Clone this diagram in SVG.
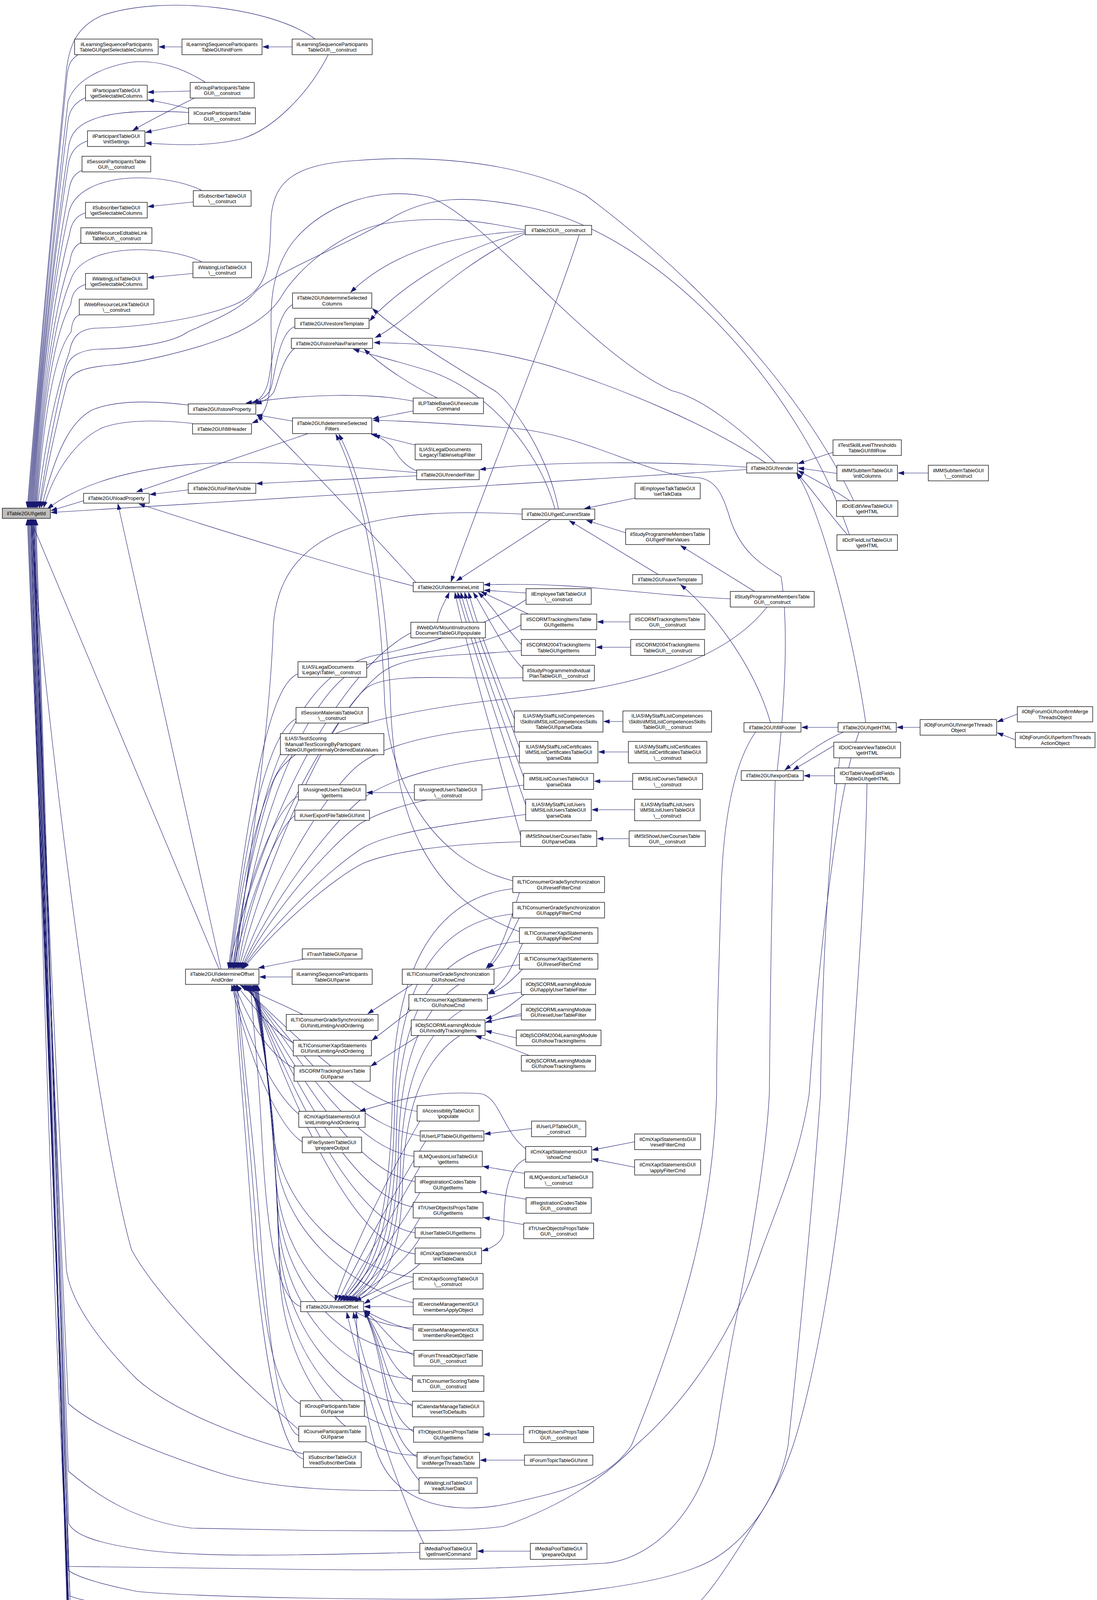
<svg xmlns="http://www.w3.org/2000/svg" width="2809" height="4775" viewBox="0 0 2809 4775">
<defs>
<marker id="ah" markerWidth="16" markerHeight="11" refX="15" refY="5.5" orient="auto" markerUnits="userSpaceOnUse"><path d="M0,0.5 L15,5.5 L0,10.5 z" fill="#191970" stroke="#191970"/></marker>
<style>
rect{fill:#fff;stroke:#000;stroke-width:1.3}
.g rect{fill:#bfbfbf}
text{font-family:"Liberation Sans",Arial,sans-serif;font-size:13px;fill:#000;text-anchor:middle}
text.l{text-anchor:start}
#edges path{fill:none;stroke:#191970;stroke-width:1.1;marker-end:url(#ah)}
</style>
</defs>
<rect x="0" y="0" width="2809" height="4775" style="fill:#fff;stroke:none"/>
<g id="edges">
<path d="M748,120 L673,120"/>
<path d="M466,120 L407,120"/>
<path d="M840,141 C790,240 700,330 620,355 C540,375 450,372 373,366"/>
<path d="M487,233 L379,236"/>
<path d="M498,251 C450,275 380,310 340,334"/>
<path d="M483,278 C450,270 420,262 379,256"/>
<path d="M483,316 L373,339"/>
<path d="M495,517 L379,529"/>
<path d="M494,700 L379,711"/>
<path d="M807,100 C700,20 420,-15 260,40 C200,68 178,110 170,180 Q110,800 70,1299"/>
<path d="M200,140 C185,150 176,160 172,190 Q112,800 72,1299"/>
<path d="M526,211 C470,175 400,150 330,160 C250,175 190,210 174,260 Q113,800 74,1299"/>
<path d="M219,250 C192,262 178,280 174,310 Q114,800 76,1299"/>
<path d="M483,288 C400,283 300,282 240,305 C200,320 180,340 175,380 Q115,800 78,1299"/>
<path d="M224,361 C195,370 180,390 175,420 Q116,800 80,1299"/>
<path d="M210,436 C190,445 180,460 176,490 Q117,800 82,1299"/>
<path d="M516,487 C470,465 400,452 330,456 C250,462 192,490 177,540 Q118,800 84,1299"/>
<path d="M219,545 C195,552 182,570 178,600 Q119,820 86,1299"/>
<path d="M207,621 C190,630 182,645 179,670 Q120,840 88,1299"/>
<path d="M516,670 C470,648 400,636 330,640 C250,645 193,672 180,720 Q121,860 90,1299"/>
<path d="M219,728 C195,736 184,750 181,780 Q122,880 92,1299"/>
<path d="M203,806 C190,812 184,825 182,850 Q123,920 94,1299"/>
<path d="M2186,1282 C2100,1100 1900,800 1500,500 C1300,400 1050,400 912,411 C760,420 700,460 694,560 C690,680 690,740 600,780 C500,820 350,838 246,840 C205,842 185,860 178,900 Q125,1050 96,1299"/>
<path d="M2175,1369 C2050,1000 1700,600 1350,530 C1200,500 1100,500 1000,560 C900,620 700,700 656,745 C620,790 560,815 480,850 C440,880 330,893 246,894 C205,898 180,910 170,940 Q130,1100 100,1299"/>
<path d="M1345,589 C1250,570 1150,550 1000,570 C880,585 760,690 720,760 C690,810 620,850 560,870 C480,900 350,930 281,935 C220,940 185,950 172,980 Q135,1120 102,1299"/>
<path d="M1067,1210 C900,1195 700,1180 560,1185 C400,1190 230,1220 122,1302"/>
<path d="M1912,1202 L131,1312"/>
<path d="M482,1037 C400,1027 300,1022 235,1050 C180,1080 145,1150 106,1299"/>
<path d="M494,1084 C420,1076 320,1072 260,1096 C200,1125 140,1200 112,1299"/>
<path d="M214,1282 L131,1307"/>
<path d="M561,2481 L78,1330"/>
<path d="M566,2481 L302,1290"/>
<path d="M482,1254 L384,1266"/>
<path d="M1067,1218 L657,1238"/>
<path d="M789,1110 L350,1259"/>
<path d="M749,1078 L657,1062"/>
<path d="M1058,1027 C950,1005 780,1008 630,1032"/>
<path d="M1058,1052 L955,1072"/>
<path d="M1066,1140 L950,1111"/>
<path d="M1067,1206 C1030,1190 1015,1160 1005,1145 C990,1130 975,1120 958,1113"/>
<path d="M1313,2255 C1100,2200 1000,2000 985,1800 C975,1500 930,1250 860,1112"/>
<path d="M1330,2385 C1100,2300 1010,2100 1000,1800 C990,1500 940,1250 868,1112"/>
<path d="M1065,1491 C1000,1420 800,1200 659,1063"/>
<path d="M1058,1500 C900,1460 600,1370 356,1290"/>
<path d="M749,780 C710,800 700,900 690,960 C685,1000 670,1020 648,1032"/>
<path d="M755,836 C715,850 705,950 695,990 C690,1010 670,1025 645,1031"/>
<path d="M754,892 C720,920 710,990 700,1005 C690,1020 675,1028 655,1034"/>
<path d="M1985,1185 C1900,1100 1800,1020 1720,1000 C1500,900 1250,560 1100,505 C950,470 800,540 737,638 C700,700 694,760 694,820 C694,900 700,950 690,1000 C685,1050 665,1075 646,1083"/>
<path d="M1961,1185 C1800,1080 1600,1000 1450,950 C1300,900 1150,880 958,877"/>
<path d="M1120,1019 C1060,990 980,940 933,894"/>
<path d="M1345,592 C1150,600 1000,650 898,748"/>
<path d="M1345,595 C1150,640 1000,760 947,821"/>
<path d="M1345,598 C1150,690 1050,820 961,864"/>
<path d="M1483,601 C1420,800 1220,1300 1155,1489"/>
<path d="M1430,1303 C1400,1150 1300,1020 1266,1000 C1150,930 1020,850 954,790"/>
<path d="M1421,1303 C1380,1150 1250,1000 1100,950 C1000,920 940,905 905,894"/>
<path d="M1990,1973 C2010,1800 2020,1600 2000,1476 C1960,1450 1900,1420 1870,1330 C1850,1260 1830,1224 1780,1222 C1650,1215 1500,1110 1300,1095 C1150,1085 1050,1078 956,1076"/>
<path d="M1410,1330 L1169,1487"/>
<path d="M1337,1316 C1000,1300 720,1330 700,1600 C690,1900 630,2250 600,2479"/>
<path d="M1626,1275 L1497,1302"/>
<path d="M1602,1364 L1502,1332"/>
<path d="M1686,1471 L1458,1333"/>
<path d="M1932,1514 L1743,1397"/>
<path d="M1870,1533 C1600,1520 1500,1490 1240,1497"/>
<path d="M1964,1554 C1850,1700 1600,1760 1380,1782 C1150,1800 760,1850 700,2000 C650,2150 610,2350 598,2479"/>
<path d="M1973,1850 C1930,1700 1820,1560 1743,1497"/>
<path d="M2146,1862 L2053,1862"/>
<path d="M2356,1862 L2297,1862"/>
<path d="M2605,1828 L2554,1848"/>
<path d="M2600,1894 L2554,1876"/>
<path d="M2377,1211 L2300,1211"/>
<path d="M2133,1158 L2044,1187"/>
<path d="M2143,1212 L2044,1198"/>
<path d="M2176,1282 C2130,1250 2080,1225 2044,1205"/>
<path d="M2170,1369 C2110,1300 2070,1240 2040,1211"/>
<path d="M2217,1850 C2180,1600 2100,1300 2040,1212"/>
<path d="M2150,1900 C2100,1930 2050,1960 2031,1971"/>
<path d="M2137,1986 L2059,1986"/>
<path d="M2160,1874 C2100,1900 2050,1940 2010,1971"/>
<path d="M1912,1196 C1700,1180 1400,1180 1229,1202"/>
<path d="M1347,1518 L1240,1511"/>
<path d="M1347,1535 C1250,1600 1100,1650 950,1680 C800,1720 660,1900 603,2479"/>
<path d="M1353,1572 L1232,1515"/>
<path d="M1334,1600 C1200,1680 1000,1660 900,1720 C780,1800 650,2100 606,2479"/>
<path d="M1335,1650 C1290,1600 1260,1550 1225,1517"/>
<path d="M1335,1665 C1200,1680 1050,1670 980,1720 C880,1790 660,2150 609,2479"/>
<path d="M1339,1712 C1280,1650 1240,1560 1212,1517"/>
<path d="M1339,1735 C1150,1740 1000,1720 940,1760 C850,1830 680,2200 612,2479"/>
<path d="M1317,1840 C1280,1750 1220,1600 1200,1517"/>
<path d="M1317,1860 C1150,1870 1000,1900 930,1950 C850,2000 700,2250 615,2479"/>
<path d="M1330,1915 C1290,1800 1210,1600 1190,1517"/>
<path d="M1330,1935 C1150,1950 1000,1990 920,2050 C840,2120 700,2300 618,2479"/>
<path d="M1341,1990 C1290,1850 1200,1600 1180,1517"/>
<path d="M1341,2010 C1150,2030 1000,2060 920,2110 C840,2170 700,2330 620,2479"/>
<path d="M1346,2060 C1290,1900 1200,1620 1172,1517"/>
<path d="M1346,2085 C1150,2110 1000,2130 930,2170 C850,2220 700,2360 622,2479"/>
<path d="M1333,2140 C1280,1950 1190,1640 1165,1517"/>
<path d="M1333,2155 C1150,2160 1000,2180 930,2210 C850,2250 700,2380 624,2479"/>
<path d="M1052,1620 C900,1700 700,2000 585,2479"/>
<path d="M1120,1593 C1125,1560 1140,1540 1150,1517"/>
<path d="M1613,1592 L1530,1592"/>
<path d="M1615,1657 L1527,1657"/>
<path d="M1595,1847 L1546,1847"/>
<path d="M1609,1925 L1533,1925"/>
<path d="M1620,2000 L1522,2000"/>
<path d="M1625,2073 L1516,2073"/>
<path d="M1611,2147 L1530,2147"/>
<path d="M1061,2029 L939,2029"/>
<path d="M763,1725 C700,1750 650,1950 585,2479"/>
<path d="M758,1840 C700,1870 640,2050 588,2479"/>
<path d="M740,1932 C690,1990 630,2150 591,2479"/>
<path d="M764,2038 C720,2060 640,2200 594,2479"/>
<path d="M755,2088 C720,2110 650,2250 597,2479"/>
<path d="M779,2455 L662,2478"/>
<path d="M748,2501 L665,2501"/>
<path d="M775,2597 C720,2570 660,2545 615,2522"/>
<path d="M751,2670 C700,2640 650,2580 606,2522"/>
<path d="M753,2735 C690,2700 640,2620 601,2522"/>
<path d="M765,2852 C700,2800 630,2650 597,2522"/>
<path d="M774,2923 C720,2890 650,2750 593,2522"/>
<path d="M1056,2520 L942,2595"/>
<path d="M1052,2586 L953,2663"/>
<path d="M1073,2651 L950,2729"/>
<path d="M1330,2285 C1300,2380 1280,2440 1245,2479"/>
<path d="M1330,2349 C1300,2410 1280,2450 1250,2479"/>
<path d="M1338,2415 C1310,2480 1290,2520 1250,2543"/>
<path d="M1338,2481 C1310,2510 1290,2530 1252,2545"/>
<path d="M1342,2546 C1300,2580 1270,2600 1244,2608"/>
<path d="M1335,2595 L1244,2617"/>
<path d="M1322,2657 L1244,2639"/>
<path d="M1355,2702 C1300,2680 1260,2665 1218,2652"/>
<path d="M1346,2941 C1290,2900 1280,2810 1232,2800 C1100,2790 1000,2820 921,2845"/>
<path d="M1346,2967 C1290,2990 1290,3100 1290,3150 C1290,3180 1260,3195 1235,3202"/>
<path d="M1625,2923 L1517,2944"/>
<path d="M1625,2988 L1517,2967"/>
<path d="M1361,2889 L1241,2903"/>
<path d="M1343,3004 L1237,2986"/>
<path d="M1347,3070 L1232,3050"/>
<path d="M1341,3135 L1239,3117"/>
<path d="M1341,3672 L1239,3672"/>
<path d="M1343,3738 L1230,3738"/>
<path d="M1358,3971 L1223,3971"/>
<path d="M1068,2845 C950,2830 800,2700 620,2522"/>
<path d="M1076,2908 C900,2880 780,2700 625,2522"/>
<path d="M1060,2960 C900,2940 760,2700 628,2522"/>
<path d="M1063,3025 C900,3000 750,2720 631,2522"/>
<path d="M1058,3090 C890,3060 740,2730 634,2522"/>
<path d="M1063,3156 C890,3130 730,2740 637,2522"/>
<path d="M1063,3210 C890,3190 720,2750 640,2522"/>
<path d="M1075,2870 C1000,3000 900,3200 858,3330"/>
<path d="M1090,2921 C1010,3050 920,3220 866,3330"/>
<path d="M1075,2987 C1010,3100 930,3240 874,3330"/>
<path d="M1075,3053 C1020,3150 940,3260 882,3330"/>
<path d="M1075,3118 C1030,3200 950,3280 890,3330"/>
<path d="M1075,3169 C1040,3230 960,3290 898,3330"/>
<path d="M1075,3235 C1040,3270 970,3300 910,3331"/>
<path d="M1058,3280 C1000,3300 960,3320 933,3337"/>
<path d="M1058,3345 L933,3345"/>
<path d="M1058,3405 C1000,3390 960,3370 933,3354"/>
<path d="M1060,3470 C1000,3440 980,3390 933,3357"/>
<path d="M1056,3535 C990,3500 980,3420 933,3358"/>
<path d="M1056,3600 C985,3560 985,3440 933,3358"/>
<path d="M1059,3665 C980,3620 990,3460 933,3358"/>
<path d="M1068,3730 C980,3680 990,3470 933,3358"/>
<path d="M1073,3790 C1000,3700 930,3500 905,3360"/>
<path d="M1085,3951 C1010,3800 920,3500 888,3360"/>
<path d="M770,3345 C700,3320 680,3100 670,2900 C660,2700 645,2600 642,2522"/>
<path d="M1058,3270 C900,3250 720,3100 700,2900 C690,2750 660,2600 645,2522"/>
<path d="M1058,3335 C900,3300 720,3150 705,2950 C695,2780 665,2620 648,2522"/>
<path d="M1058,3400 C880,3390 720,3250 705,3000 C695,2800 668,2620 650,2522"/>
<path d="M1060,3465 C880,3450 720,3300 708,3050 C700,2850 670,2630 652,2522"/>
<path d="M1056,3530 C880,3520 720,3350 710,3100 C702,2880 672,2640 654,2522"/>
<path d="M1056,3595 C880,3590 720,3400 712,3150 C705,2900 674,2650 656,2522"/>
<path d="M1059,3660 C880,3660 720,3450 714,3200 C708,2920 676,2660 658,2522"/>
<path d="M1068,3725 C880,3730 720,3500 716,3250 C710,2950 678,2670 660,2522"/>
<path d="M1313,2275 C1100,2300 1010,2500 1005,2800 C1000,3100 960,3250 870,3330"/>
<path d="M1313,2340 C1100,2360 1015,2550 1010,2850 C1005,3120 965,3260 878,3330"/>
<path d="M1330,2410 C1100,2430 1020,2600 1015,2900 C1010,3140 970,3270 886,3330"/>
<path d="M1330,2470 C1110,2490 1025,2650 1020,2950 C1015,3160 975,3280 894,3330"/>
<path d="M1335,2540 C1120,2560 1030,2700 1025,3000 C1020,3180 980,3290 902,3330"/>
<path d="M1335,2600 C1130,2620 1035,2750 1030,3050 C1025,3200 985,3300 910,3330"/>
<path d="M765,3660 C650,3560 420,3350 337,3200 C250,2900 110,1800 80,1330"/>
<path d="M777,3722 C650,3690 450,3620 350,3530 C250,3430 180,3330 170,3250 Q120,2300 82,1330"/>
<path d="M777,3735 C720,3720 680,3500 650,3200 C630,2900 610,2700 600,2522"/>
<path d="M769,3594 C700,3560 680,3400 660,3200 C640,2900 615,2700 605,2522"/>
<path d="M765,3675 C720,3660 690,3450 670,3200 C650,2900 620,2700 608,2522"/>
<path d="M1073,3815 C900,3818 700,3815 560,3770 C420,3725 250,3660 175,3593 Q125,2500 84,1330"/>
<path d="M1075,3974 C800,3980 500,3990 350,3965 C250,3950 190,3930 176,3900 Q128,2600 86,1330"/>
<path d="M1935,1874 C1880,1950 1850,2100 1846,2300 C1840,2500 1835,2650 1835,2800 C1825,3100 1760,3350 1617,3700 C1550,3800 1420,3822 1300,3850 C1150,3880 1000,3850 960,3700 C930,3600 915,3450 912,3360"/>
<path d="M1985,1998 C1975,2300 1972,2600 1970,2800 C1960,3000 1900,3300 1881,3397 C1860,3500 1840,3640 1829,3700 C1780,3900 1650,3995 1546,4002 C1300,4015 1100,4021 800,4018 C500,4015 300,4012 170,4010 Q130,2700 88,1330"/>
<path d="M2200,1874 C2150,2000 2100,2400 2072,2800 C2050,2950 2000,3064 1950,3200 C1900,3350 1800,3550 1628,3700 C1550,3780 1450,3850 1291,3907 C1200,3920 1100,3920 800,3918 L491,3912 C350,3895 250,3830 175,3766 Q128,2600 86,1330"/>
<path d="M2150,1940 C2120,2200 2105,2500 2101,2800 C2080,3100 2040,3500 2018,3700 C1990,3850 1900,3950 1821,3995 C1700,4060 1400,4094 1100,4094 C800,4094 450,4085 351,4074 C280,4060 200,4040 175,4020 Q132,2700 90,1330"/>
<path d="M2220,2006 C2215,2300 2190,2600 2177,2800 C2150,3200 2080,3550 2031,3700 C2000,3790 1980,3826 1900,3950 C1830,4060 1780,4131 1738,4131 L1100,4131 C800,4131 600,4126 491,4124 C350,4118 230,4105 179,4086 Q134,2700 92,1330"/>
<path d="M475,4255 C350,4240 220,4225 180,4200 Q120,3000 80,1330"/>
<path d="M475,4275 L393,4288"/>
<path d="M477,4487 L392,4487"/>
<path d="M478,4666 L389,4672"/>
<path d="M479,4705 L389,4696"/>
<path d="M200,4154 C190,4140 182,4130 180,4110 Q130,2800 70,1330"/>
<path d="M203,4280 C188,4270 182,4255 181,4230 Q131,2800 72,1330"/>
<path d="M213,4345 C192,4335 183,4320 182,4290 Q132,2800 74,1330"/>
<path d="M205,4410 C190,4400 184,4385 183,4350 Q133,2800 76,1330"/>
<path d="M206,4475 C190,4465 185,4450 184,4410 Q134,2800 78,1330"/>
<path d="M206,4540 C190,4530 186,4515 185,4470 Q135,2800 80,1330"/>
<path d="M215,4606 C192,4596 187,4580 186,4530 Q136,2800 82,1330"/>
<path d="M208,4671 C192,4661 188,4645 187,4590 Q137,2800 84,1330"/>
<path d="M199,4737 C190,4727 189,4710 188,4650 Q138,2800 86,1330"/>
</g>
<g id="n_getId" class="g"><rect x="6" y="1301" width="123" height="26"/><text x="67.5" y="1318.5">ilTable2GUI\getId</text></g>
<g id="n_A1"><rect x="191" y="100" width="214" height="40"/><text x="298" y="117.5">ilLearningSequenceParticipants</text><text x="298" y="132">TableGUI\getSelectableColumns</text></g>
<g id="n_B1"><rect x="466" y="100" width="205" height="40"/><text x="568.5" y="117.5">ilLearningSequenceParticipants</text><text x="568.5" y="132">TableGUI\initForm</text></g>
<g id="n_C1"><rect x="748" y="100" width="205" height="40"/><text x="850.5" y="117.5">ilLearningSequenceParticipants</text><text x="850.5" y="132">TableGUI\__construct</text></g>
<g id="n_A2"><rect x="219" y="218" width="158" height="40"/><text x="298" y="235.5">ilParticipantTableGUI</text><text x="298" y="250">\getSelectableColumns</text></g>
<g id="n_B2"><rect x="487" y="211" width="164" height="40"/><text x="569" y="228.5">ilGroupParticipantsTable</text><text x="569" y="243">GUI\__construct</text></g>
<g id="n_B3"><rect x="483" y="276" width="171" height="41"/><text x="568.5" y="294">ilCourseParticipantsTable</text><text x="568.5" y="308.5">GUI\__construct</text></g>
<g id="n_A3"><rect x="224" y="335" width="147" height="40"/><text x="297.5" y="352.5">ilParticipantTableGUI</text><text x="297.5" y="367">\initSettings</text></g>
<g id="n_A4"><rect x="210" y="400" width="176" height="40"/><text x="298" y="417.5">ilSessionParticipantsTable</text><text x="298" y="432">GUI\__construct</text></g>
<g id="n_B4"><rect x="495" y="488" width="148" height="40"/><text x="569" y="505.5">ilSubscriberTableGUI</text><text x="569" y="520">\__construct</text></g>
<g id="n_A5"><rect x="219" y="518" width="158" height="40"/><text x="298" y="535.5">ilSubscriberTableGUI</text><text x="298" y="550">\getSelectableColumns</text></g>
<g id="n_A6"><rect x="207" y="583" width="182" height="40"/><text x="298" y="600.5">ilWebResourceEditableLink</text><text x="298" y="615">TableGUI\__construct</text></g>
<g id="n_B5"><rect x="494" y="671" width="150" height="40"/><text x="569" y="688.5">ilWaitingListTableGUI</text><text x="569" y="703">\__construct</text></g>
<g id="n_A7"><rect x="219" y="700" width="158" height="40"/><text x="298" y="717.5">ilWaitingListTableGUI</text><text x="298" y="732">\getSelectableColumns</text></g>
<g id="n_A8"><rect x="203" y="766" width="191" height="40"/><text x="298.5" y="783.5">ilWebResourceLinkTableGUI</text><text x="298.5" y="798">\__construct</text></g>
<g id="n_C2"><rect x="749" y="750" width="203" height="39"/><text x="850.5" y="767">ilTable2GUI\determineSelected</text><text x="850.5" y="781.5">Columns</text></g>
<g id="n_C3"><rect x="755" y="815" width="190" height="26"/><text x="850" y="832.5">ilTable2GUI\restoreTemplate</text></g>
<g id="n_C4"><rect x="746" y="866" width="208" height="26"/><text x="850" y="883.5">ilTable2GUI\storeNavParameter</text></g>
<g id="n_B6"><rect x="482" y="1034" width="173" height="26"/><text x="568.5" y="1051.5">ilTable2GUI\storeProperty</text></g>
<g id="n_C5"><rect x="749" y="1070" width="203" height="40"/><text x="850.5" y="1087.5">ilTable2GUI\determineSelected</text><text x="850.5" y="1102">Filters</text></g>
<g id="n_B7"><rect x="493" y="1085" width="151" height="26"/><text x="568.5" y="1102.5">ilTable2GUI\fillHeader</text></g>
<g id="n_D1"><rect x="1058" y="1019" width="180" height="40"/><text x="1148" y="1036.5">ilLPTableBaseGUI\execute</text><text x="1148" y="1051">Command</text></g>
<g id="n_D2"><rect x="1063" y="1137" width="170" height="40"/><text class="l" x="1073" y="1154.5">ILIAS\LegalDocuments</text><text class="l" x="1073" y="1169">\Legacy\Table\setupFilter</text></g>
<g id="n_D3"><rect x="1067" y="1203" width="160" height="25"/><text x="1147" y="1220">ilTable2GUI\renderFilter</text></g>
<g id="n_B8"><rect x="482" y="1237" width="173" height="26"/><text x="568.5" y="1254.5">ilTable2GUI\isFilterVisible</text></g>
<g id="n_A9"><rect x="214" y="1263" width="168" height="25"/><text x="298" y="1280">ilTable2GUI\loadProperty</text></g>
<g id="n_E0"><rect x="1345" y="577" width="170" height="24"/><text x="1430" y="593.5">ilTable2GUI\__construct</text></g>
<g id="n_E1"><rect x="1337" y="1303" width="186" height="27"/><text x="1430" y="1321">ilTable2GUI\getCurrentState</text></g>
<g id="n_F1"><rect x="1626" y="1237" width="167" height="40"/><text x="1709.5" y="1254.5">ilEmployeeTalkTableGUI</text><text x="1709.5" y="1269">\setTalkData</text></g>
<g id="n_F2"><rect x="1602" y="1354" width="215" height="40"/><text x="1709.5" y="1371.5">ilStudyProgrammeMembersTable</text><text x="1709.5" y="1386">GUI\getFilterValues</text></g>
<g id="n_F3"><rect x="1620" y="1471" width="178" height="24"/><text x="1709" y="1487.5">ilTable2GUI\saveTemplate</text></g>
<g id="n_D4"><rect x="1058" y="1491" width="180" height="24"/><text x="1148" y="1507.5">ilTable2GUI\determineLimit</text></g>
<g id="n_E2"><rect x="1347" y="1507" width="167" height="40"/><text x="1430.5" y="1524.5">ilEmployeeTalkTableGUI</text><text x="1430.5" y="1539">\__construct</text></g>
<g id="n_G2"><rect x="1870" y="1514" width="215" height="40"/><text x="1977.5" y="1531.5">ilStudyProgrammeMembersTable</text><text x="1977.5" y="1546">GUI\__construct</text></g>
<g id="n_E3"><rect x="1334" y="1572" width="194" height="40"/><text x="1431" y="1589.5">ilSCORMTrackingItemsTable</text><text x="1431" y="1604">GUI\getItems</text></g>
<g id="n_F4"><rect x="1613" y="1572" width="192" height="40"/><text x="1709" y="1589.5">ilSCORMTrackingItemsTable</text><text x="1709" y="1604">GUI\__construct</text></g>
<g id="n_E4"><rect x="1335" y="1637" width="190" height="41"/><text x="1430" y="1655">ilSCORM2004TrackingItems</text><text x="1430" y="1669.5">TableGUI\getItems</text></g>
<g id="n_F5"><rect x="1615" y="1637" width="189" height="41"/><text x="1709.5" y="1655">ilSCORM2004TrackingItems</text><text x="1709.5" y="1669.5">TableGUI\__construct</text></g>
<g id="n_D5"><rect x="1052" y="1593" width="191" height="40"/><text x="1147.5" y="1610.5">ilWebDAVMountInstructions</text><text x="1147.5" y="1625">DocumentTableGUI\populate</text></g>
<g id="n_E5"><rect x="1339" y="1703" width="183" height="40"/><text x="1430.5" y="1720.5">ilStudyProgrammeIndividual</text><text x="1430.5" y="1735">PlanTableGUI\__construct</text></g>
<g id="n_C6"><rect x="763" y="1694" width="176" height="40"/><text class="l" x="773" y="1711.5">ILIAS\LegalDocuments</text><text class="l" x="773" y="1726">\Legacy\Table\__construct</text></g>
<g id="n_C7"><rect x="758" y="1811" width="185" height="40"/><text x="850.5" y="1828.5">ilSessionMaterialsTableGUI</text><text x="850.5" y="1843">\__construct</text></g>
<g id="n_C8"><rect x="718" y="1878" width="265" height="54"/><text class="l" x="729" y="1895">ILIAS\Test\Scoring</text><text class="l" x="729" y="1909.5">\Manual\TestScoringByParticipant</text><text class="l" x="729" y="1924">TableGUI\getInternalyOrderedDataValues</text></g>
<g id="n_E6"><rect x="1317" y="1820" width="227" height="54"/><text x="1430.5" y="1837">ILIAS\MyStaff\ListCompetences</text><text x="1430.5" y="1851.5">\Skills\ilMStListCompetencesSkills</text><text x="1430.5" y="1866">TableGUI\parseData</text></g>
<g id="n_F6"><rect x="1595" y="1820" width="227" height="54"/><text x="1708.5" y="1837">ILIAS\MyStaff\ListCompetences</text><text x="1708.5" y="1851.5">\Skills\ilMStListCompetencesSkills</text><text x="1708.5" y="1866">TableGUI\__construct</text></g>
<g id="n_G3"><rect x="1905" y="1850" width="146" height="24"/><text x="1978" y="1866.5">ilTable2GUI\fillFooter</text></g>
<g id="n_H5"><rect x="2146" y="1850" width="149" height="24"/><text x="2220.5" y="1866.5">ilTable2GUI\getHTML</text></g>
<g id="n_I2"><rect x="2356" y="1842" width="196" height="40"/><text x="2454" y="1859.5">ilObjForumGUI\mergeThreads</text><text x="2454" y="1874">Object</text></g>
<g id="n_J1"><rect x="2605" y="1809" width="193" height="39"/><text x="2701.5" y="1826">ilObjForumGUI\confirmMerge</text><text x="2701.5" y="1840.5">ThreadsObject</text></g>
<g id="n_J2"><rect x="2600" y="1875" width="204" height="39"/><text x="2702" y="1892">ilObjForumGUI\performThreads</text><text x="2702" y="1906.5">ActionObject</text></g>
<g id="n_E7"><rect x="1330" y="1898" width="201" height="55"/><text x="1430.5" y="1915.5">ILIAS\MyStaff\ListCertificates</text><text x="1430.5" y="1930">\ilMStListCertificatesTableGUI</text><text x="1430.5" y="1944.5">\parseData</text></g>
<g id="n_F7"><rect x="1609" y="1898" width="201" height="55"/><text x="1709.5" y="1915.5">ILIAS\MyStaff\ListCertificates</text><text x="1709.5" y="1930">\ilMStListCertificatesTableGUI</text><text x="1709.5" y="1944.5">\__construct</text></g>
<g id="n_H6"><rect x="2135" y="1900" width="171" height="40"/><text x="2220.5" y="1917.5">ilDclCreateViewTableGUI</text><text x="2220.5" y="1932">\getHTML</text></g>
<g id="n_G4"><rect x="1898" y="1973" width="159" height="25"/><text x="1977.5" y="1990">ilTable2GUI\exportData</text></g>
<g id="n_H7"><rect x="2137" y="1966" width="167" height="40"/><text x="2220.5" y="1983.5">ilDclTableViewEditFields</text><text x="2220.5" y="1998">TableGUI\getHTML</text></g>
<g id="n_E8"><rect x="1341" y="1980" width="179" height="41"/><text x="1430.5" y="1998">ilMStListCoursesTableGUI</text><text x="1430.5" y="2012.5">\parseData</text></g>
<g id="n_F8"><rect x="1620" y="1980" width="179" height="41"/><text x="1709.5" y="1998">ilMStListCoursesTableGUI</text><text x="1709.5" y="2012.5">\__construct</text></g>
<g id="n_C9"><rect x="764" y="2009" width="173" height="39"/><text x="850.5" y="2026">ilAssignedUsersTableGUI</text><text x="850.5" y="2040.5">\getItems</text></g>
<g id="n_D6"><rect x="1061" y="2009" width="173" height="39"/><text x="1147.5" y="2026">ilAssignedUsersTableGUI</text><text x="1147.5" y="2040.5">\__construct</text></g>
<g id="n_E9"><rect x="1346" y="2046" width="168" height="55"/><text x="1430" y="2063.5">ILIAS\MyStaff\ListUsers</text><text x="1430" y="2078">\ilMStListUsersTableGUI</text><text x="1430" y="2092.5">\parseData</text></g>
<g id="n_F9"><rect x="1625" y="2046" width="168" height="55"/><text x="1709" y="2063.5">ILIAS\MyStaff\ListUsers</text><text x="1709" y="2078">\ilMStListUsersTableGUI</text><text x="1709" y="2092.5">\__construct</text></g>
<g id="n_C10"><rect x="755" y="2074" width="191" height="26"/><text x="850.5" y="2091.5">ilUserExportFileTableGUI\init</text></g>
<g id="n_E10"><rect x="1333" y="2127" width="195" height="40"/><text x="1430.5" y="2144.5">ilMStShowUserCoursesTable</text><text x="1430.5" y="2159">GUI\parseData</text></g>
<g id="n_F10"><rect x="1611" y="2127" width="195" height="40"/><text x="1708.5" y="2144.5">ilMStShowUserCoursesTable</text><text x="1708.5" y="2159">GUI\__construct</text></g>
<g id="n_E11"><rect x="1313" y="2244" width="235" height="41"/><text x="1430.5" y="2262">ilLTIConsumerGradeSynchronization</text><text x="1430.5" y="2276.5">GUI\resetFilterCmd</text></g>
<g id="n_E12"><rect x="1313" y="2310" width="235" height="40"/><text x="1430.5" y="2327.5">ilLTIConsumerGradeSynchronization</text><text x="1430.5" y="2342">GUI\applyFilterCmd</text></g>
<g id="n_E13"><rect x="1330" y="2375" width="201" height="40"/><text x="1430.5" y="2392.5">ilLTIConsumerXapiStatements</text><text x="1430.5" y="2407">GUI\applyFilterCmd</text></g>
<g id="n_E14"><rect x="1330" y="2441" width="201" height="40"/><text x="1430.5" y="2458.5">ilLTIConsumerXapiStatements</text><text x="1430.5" y="2473">GUI\resetFilterCmd</text></g>
<g id="n_C11"><rect x="774" y="2429" width="153" height="26"/><text x="850.5" y="2446.5">ilTrashTableGUI\parse</text></g>
<g id="n_B9"><rect x="475" y="2481" width="188" height="39"/><text x="569" y="2498">ilTable2GUI\determineOffset</text><text x="569" y="2512.5">AndOrder</text></g>
<g id="n_C12"><rect x="748" y="2481" width="205" height="39"/><text x="850.5" y="2498">ilLearningSequenceParticipants</text><text x="850.5" y="2512.5">TableGUI\parse</text></g>
<g id="n_D7"><rect x="1030" y="2481" width="235" height="39"/><text x="1147.5" y="2498">ilLTIConsumerGradeSynchronization</text><text x="1147.5" y="2512.5">GUI\showCmd</text></g>
<g id="n_E15"><rect x="1335" y="2506" width="190" height="40"/><text x="1430" y="2523.5">ilObjSCORMLearningModule</text><text x="1430" y="2538">GUI\applyUserTableFilter</text></g>
<g id="n_D8"><rect x="1047" y="2546" width="201" height="40"/><text x="1147.5" y="2563.5">ilLTIConsumerXapiStatements</text><text x="1147.5" y="2578">GUI\showCmd</text></g>
<g id="n_E16"><rect x="1335" y="2571" width="190" height="40"/><text x="1430" y="2588.5">ilObjSCORMLearningModule</text><text x="1430" y="2603">GUI\resetUserTableFilter</text></g>
<g id="n_C13"><rect x="733" y="2597" width="235" height="41"/><text x="850.5" y="2615">ilLTIConsumerGradeSynchronization</text><text x="850.5" y="2629.5">GUI\initLimitingAndOrdering</text></g>
<g id="n_D9"><rect x="1053" y="2611" width="189" height="40"/><text x="1147.5" y="2628.5">ilObjSCORMLearningModule</text><text x="1147.5" y="2643">GUI\modifyTrackingItems</text></g>
<g id="n_E17"><rect x="1322" y="2637" width="217" height="40"/><text x="1430.5" y="2654.5">ilObjSCORM2004LearningModule</text><text x="1430.5" y="2669">GUI\showTrackingItems</text></g>
<g id="n_C14"><rect x="751" y="2663" width="200" height="40"/><text x="851" y="2680.5">ilLTIConsumerXapiStatements</text><text x="851" y="2695">GUI\initLimitingAndOrdering</text></g>
<g id="n_E18"><rect x="1335" y="2702" width="190" height="40"/><text x="1430" y="2719.5">ilObjSCORMLearningModule</text><text x="1430" y="2734">GUI\showTrackingItems</text></g>
<g id="n_C15"><rect x="753" y="2729" width="195" height="39"/><text x="850.5" y="2746">ilSCORMTrackingUsersTable</text><text x="850.5" y="2760.5">GUI\parse</text></g>
<g id="n_D10"><rect x="1068" y="2830" width="159" height="40"/><text x="1147.5" y="2847.5">ilAccessibilityTableGUI</text><text x="1147.5" y="2862">\populate</text></g>
<g id="n_C16"><rect x="765" y="2845" width="170" height="41"/><text x="850" y="2863">ilCmiXapiStatementsGUI</text><text x="850" y="2877.5">\initLimitingAndOrdering</text></g>
<g id="n_E19"><rect x="1361" y="2870" width="139" height="40"/><text x="1430.5" y="2887.5">ilUserLPTableGUI\_</text><text x="1430.5" y="2902">_construct</text></g>
<g id="n_D11"><rect x="1076" y="2895" width="163" height="26"/><text x="1157.5" y="2912.5">ilUserLPTableGUI\getItems</text></g>
<g id="n_F11"><rect x="1625" y="2903" width="169" height="40"/><text x="1709.5" y="2920.5">ilCmiXapiStatementsGUI</text><text x="1709.5" y="2935">\resetFilterCmd</text></g>
<g id="n_C17"><rect x="774" y="2911" width="152" height="40"/><text x="850" y="2928.5">ilFileSystemTableGUI</text><text x="850" y="2943">\prepareOutput</text></g>
<g id="n_E20"><rect x="1346" y="2935" width="169" height="40"/><text x="1430.5" y="2952.5">ilCmiXapiStatementsGUI</text><text x="1430.5" y="2967">\showCmd</text></g>
<g id="n_D12"><rect x="1060" y="2947" width="175" height="40"/><text x="1147.5" y="2964.5">ilLMQuestionListTableGUI</text><text x="1147.5" y="2979">\getItems</text></g>
<g id="n_F12"><rect x="1625" y="2969" width="169" height="39"/><text x="1709.5" y="2986">ilCmiXapiStatementsGUI</text><text x="1709.5" y="3000.5">\applyFilterCmd</text></g>
<g id="n_E21"><rect x="1343" y="3000" width="175" height="41"/><text x="1430.5" y="3018">ilLMQuestionListTableGUI</text><text x="1430.5" y="3032.5">\__construct</text></g>
<g id="n_D13"><rect x="1063" y="3012" width="168" height="41"/><text x="1147" y="3030">ilRegistrationCodesTable</text><text x="1147" y="3044.5">GUI\getItems</text></g>
<g id="n_E22"><rect x="1347" y="3066" width="167" height="40"/><text x="1430.5" y="3083.5">ilRegistrationCodesTable</text><text x="1430.5" y="3098">GUI\__construct</text></g>
<g id="n_D14"><rect x="1058" y="3078" width="179" height="40"/><text x="1147.5" y="3095.5">ilTrUserObjectsPropsTable</text><text x="1147.5" y="3110">GUI\getItems</text></g>
<g id="n_E23"><rect x="1341" y="3131" width="179" height="40"/><text x="1430.5" y="3148.5">ilTrUserObjectsPropsTable</text><text x="1430.5" y="3163">GUI\__construct</text></g>
<g id="n_D15"><rect x="1063" y="3143" width="168" height="26"/><text x="1147" y="3160.5">ilUserTableGUI\getItems</text></g>
<g id="n_D16"><rect x="1063" y="3195" width="170" height="40"/><text x="1148" y="3212.5">ilCmiXapiStatementsGUI</text><text x="1148" y="3227">\initTableData</text></g>
<g id="n_D17"><rect x="1058" y="3260" width="179" height="40"/><text x="1147.5" y="3277.5">ilCmiXapiScoringTableGUI</text><text x="1147.5" y="3292">\__construct</text></g>
<g id="n_D18"><rect x="1058" y="3325" width="179" height="41"/><text x="1147.5" y="3343">ilExerciseManagementGUI</text><text x="1147.5" y="3357.5">\membersApplyObject</text></g>
<g id="n_C18"><rect x="770" y="3332" width="161" height="26"/><text x="850.5" y="3349.5">ilTable2GUI\resetOffset</text></g>
<g id="n_D19"><rect x="1058" y="3391" width="179" height="40"/><text x="1147.5" y="3408.5">ilExerciseManagementGUI</text><text x="1147.5" y="3423">\membersResetObject</text></g>
<g id="n_D20"><rect x="1060" y="3457" width="175" height="40"/><text x="1147.5" y="3474.5">ilForumThreadObjectTable</text><text x="1147.5" y="3489">GUI\__construct</text></g>
<g id="n_D21"><rect x="1056" y="3522" width="183" height="40"/><text x="1147.5" y="3539.5">ilLTIConsumerScoringTable</text><text x="1147.5" y="3554">GUI\__construct</text></g>
<g id="n_C19"><rect x="769" y="3586" width="164" height="40"/><text x="851" y="3603.5">ilGroupParticipantsTable</text><text x="851" y="3618">GUI\parse</text></g>
<g id="n_D22"><rect x="1056" y="3587" width="183" height="40"/><text x="1147.5" y="3604.5">ilCalendarManageTableGUI</text><text x="1147.5" y="3619">\resetToDefaults</text></g>
<g id="n_C20"><rect x="765" y="3651" width="172" height="40"/><text x="851" y="3668.5">ilCourseParticipantsTable</text><text x="851" y="3683">GUI\parse</text></g>
<g id="n_D23"><rect x="1059" y="3653" width="178" height="39"/><text x="1148" y="3670">ilTrObjectUsersPropsTable</text><text x="1148" y="3684.5">GUI\getItems</text></g>
<g id="n_E24"><rect x="1341" y="3652" width="179" height="41"/><text x="1430.5" y="3670">ilTrObjectUsersPropsTable</text><text x="1430.5" y="3684.5">GUI\__construct</text></g>
<g id="n_C21"><rect x="777" y="3717" width="148" height="40"/><text x="851" y="3734.5">ilSubscriberTableGUI</text><text x="851" y="3749">\readSubscriberData</text></g>
<g id="n_D24"><rect x="1068" y="3718" width="160" height="40"/><text x="1148" y="3735.5">ilForumTopicTableGUI</text><text x="1148" y="3750">\initMergeThreadsTable</text></g>
<g id="n_E25"><rect x="1343" y="3725" width="175" height="26"/><text x="1430.5" y="3742.5">ilForumTopicTableGUI\init</text></g>
<g id="n_D25"><rect x="1073" y="3783" width="149" height="40"/><text x="1147.5" y="3800.5">ilWaitingListTableGUI</text><text x="1147.5" y="3815">\readUserData</text></g>
<g id="n_D26"><rect x="1075" y="3951" width="146" height="40"/><text x="1148" y="3968.5">ilMediaPoolTableGUI</text><text x="1148" y="3983">\getInsertCommand</text></g>
<g id="n_E26"><rect x="1358" y="3951" width="145" height="41"/><text x="1430.5" y="3969">ilMediaPoolTableGUI</text><text x="1430.5" y="3983.5">\prepareOutput</text></g>
<g id="n_A10"><rect x="177" y="4154" width="242" height="40"/><text class="l" x="188" y="4171.5">ilTestSkillLevelThresholds</text><text class="l" x="188" y="4186">TableGUI\completeCompetenceTitles</text></g>
<g id="n_B10"><rect x="475" y="4242" width="188" height="40"/><text x="569" y="4259.5">ilLOMemberTestResultTable</text><text x="569" y="4274">GUI\parse</text></g>
<g id="n_A11"><rect x="203" y="4271" width="188" height="40"/><text x="297" y="4288.5">ilLOMemberTestResultTable</text><text x="297" y="4303">GUI\createTestResultLink</text></g>
<g id="n_A12"><rect x="213" y="4337" width="170" height="40"/><text x="298" y="4354.5">ilCourseParticipantsTable</text><text x="298" y="4369">GUI\fillRow</text></g>
<g id="n_A13"><rect x="205" y="4402" width="186" height="40"/><text x="298" y="4419.5">ilAssignmentsPerParticipant</text><text x="298" y="4434">TableGUI\fillRow</text></g>
<g id="n_A14"><rect x="206" y="4468" width="184" height="39"/><text x="298" y="4485">ilWorkspaceShareTableGUI</text><text x="298" y="4499.5">\initFilter</text></g>
<g id="n_B11"><rect x="477" y="4468" width="184" height="39"/><text x="569" y="4485">ilWorkspaceShareTableGUI</text><text x="569" y="4499.5">\__construct</text></g>
<g id="n_A15"><rect x="206" y="4532" width="184" height="40"/><text x="298" y="4549.5">ilBookingReservationsTable</text><text x="298" y="4564">GUI\initFilter</text></g>
<g id="n_A16"><rect x="215" y="4598" width="166" height="40"/><text x="298" y="4615.5">ilDclRecordListTableGUI</text><text x="298" y="4630">\loadProperty</text></g>
<g id="n_B12"><rect x="478" y="4631" width="181" height="40"/><text x="568.5" y="4648.5">ilExerciseSubmissionTable</text><text x="568.5" y="4663">GUI\getSelectableColumns</text></g>
<g id="n_A17"><rect x="208" y="4663" width="179" height="40"/><text x="297.5" y="4680.5">ilExerciseSubmissionTable</text><text x="297.5" y="4695">GUI\parseColumns</text></g>
<g id="n_B13"><rect x="479" y="4697" width="179" height="40"/><text x="568.5" y="4714.5">ilExerciseSubmissionTable</text><text x="568.5" y="4729">GUI\__construct</text></g>
<g id="n_A18"><rect x="199" y="4729" width="197" height="40"/><text x="297.5" y="4746.5">ilBuddySystemRelationsTable</text><text x="297.5" y="4761">GUI\render</text></g>
<g id="n_H1"><rect x="2133" y="1126" width="175" height="40"/><text x="2220.5" y="1143.5">ilTestSkillLevelThresholds</text><text x="2220.5" y="1158">TableGUI\fillRow</text></g>
<g id="n_G1"><rect x="1912" y="1185" width="130" height="26"/><text x="1977" y="1202.5">ilTable2GUI\render</text></g>
<g id="n_H2"><rect x="2143" y="1191" width="155" height="40"/><text x="2220.5" y="1208.5">ilMMSubItemTableGUI</text><text x="2220.5" y="1223">\initColumns</text></g>
<g id="n_I1"><rect x="2377" y="1191" width="154" height="40"/><text x="2454" y="1208.5">ilMMSubItemTableGUI</text><text x="2454" y="1223">\__construct</text></g>
<g id="n_H3"><rect x="2142" y="1282" width="157" height="40"/><text x="2220.5" y="1299.5">ilDclEditViewTableGUI</text><text x="2220.5" y="1314">\getHTML</text></g>
<g id="n_H4"><rect x="2143" y="1369" width="155" height="40"/><text x="2220.5" y="1386.5">ilDclFieldListTableGUI</text><text x="2220.5" y="1401">\getHTML</text></g>
</svg>
